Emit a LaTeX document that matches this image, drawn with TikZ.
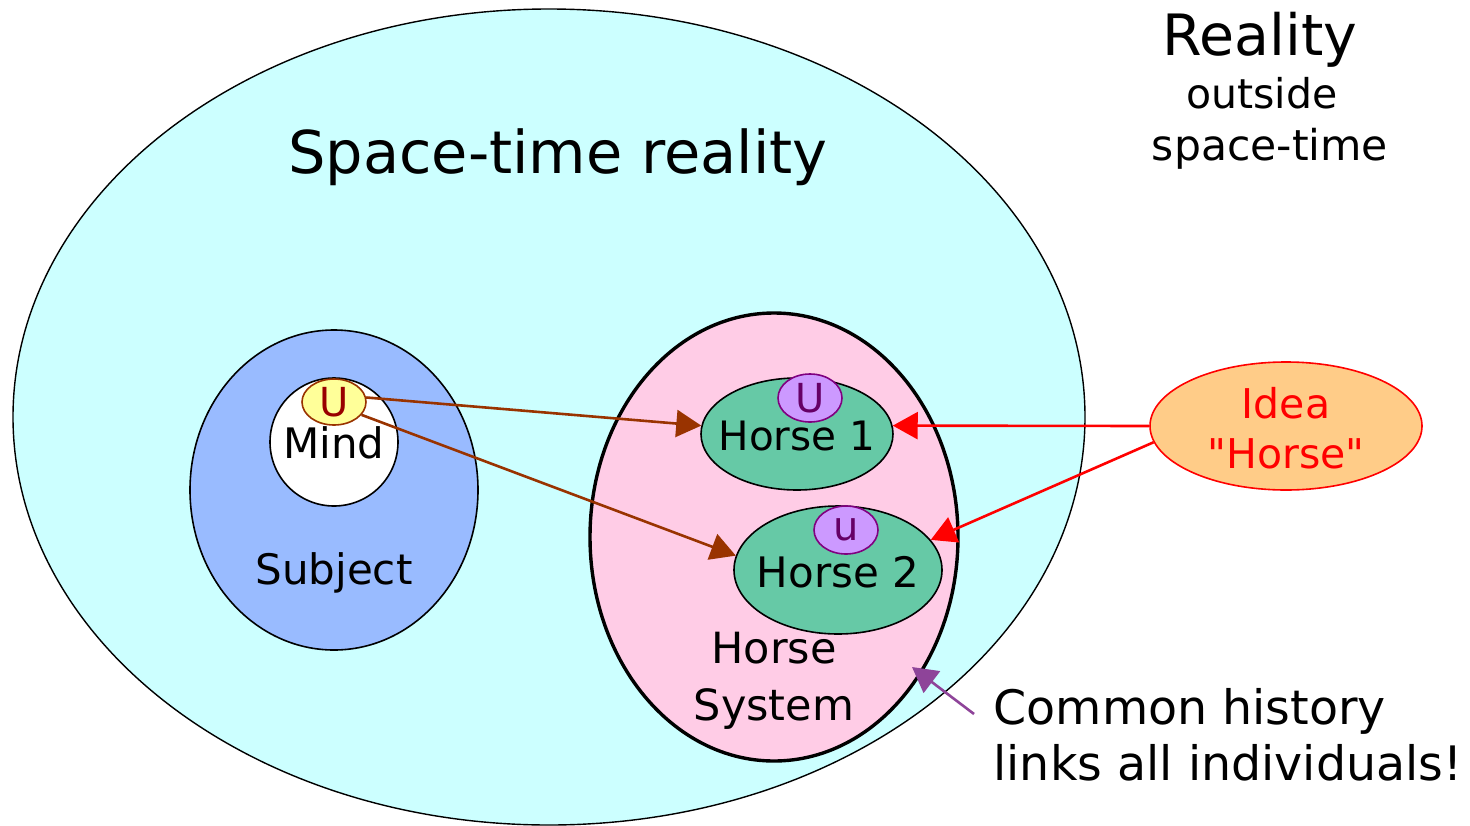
\documentclass[tikz,border=0pt]{standalone}
\usepackage{fontspec}
\setmainfont{DejaVu Sans}
\usetikzlibrary{shapes.geometric,arrows.meta}
\definecolor{cyanbg}{HTML}{CCFFFF}
\definecolor{subj}{HTML}{99BBFF}
\definecolor{pinkbg}{HTML}{FFCCE6}
\definecolor{horsegreen}{HTML}{66C9A6}
\definecolor{ideafill}{HTML}{FFCC88}
\definecolor{uyellow}{HTML}{FFFF99}
\definecolor{upurple}{HTML}{CC99FF}
\definecolor{brownline}{HTML}{993300}
\definecolor{darkred}{HTML}{990000}
\definecolor{purpleline}{HTML}{800080}
\definecolor{purpletext}{HTML}{660066}
\definecolor{arrowpurple}{HTML}{8E4499}
\tikzset{
  ell/.style={ellipse, inner sep=0pt, draw=black, line width=1.6pt},
  fs/.style={font=\fontsize{#1}{#1}\selectfont},
  brownarrow/.style={draw=brownline, line width=2.6pt, -{Triangle[length=25pt,width=27pt]}},
  redarrow/.style={draw=red, line width=2.6pt, -{Triangle[length=25pt,width=27pt]}},
  purplearrow/.style={draw=arrowpurple, line width=2.6pt, -{Triangle[length=25pt,width=27pt]}},
}
\begin{document}
\begin{tikzpicture}[x=1pt,y=-1pt]
\useasboundingbox (0,0) rectangle (1470,825);
% big space-time ellipse
\node[ell, fill=cyanbg, line width=1.4pt, minimum width=1072pt, minimum height=816pt] (st) at (549,417) {};
\node[fs=59] (sttext) at (558,157) {Space-time reality};
% reality outside
\node[fs=57, anchor=base] (reality) at (1260,55) {Reality};
\node[fs=41, anchor=base] (outside) at (1262,108) {outside};
\node[fs=42.5, anchor=base] (spacetime) at (1270,160) {space-time};
% subject
\node[ell, fill=subj, minimum width=288pt, minimum height=320pt] (subject) at (334,490) {};
\node[fs=42, anchor=base] (subjtext) at (334,584) {Subject};
\node[ell, fill=white, minimum width=128pt, minimum height=128pt] (mind) at (334,442) {};
\node[fs=42, anchor=base] (mindtext) at (334,458) {Mind};
\node[ell, fill=uyellow, draw=brownline, line width=1.6pt, minimum width=64pt, minimum height=46pt, text=darkred, fs=40] (uy) at (334,402) {U};
% horse system
\node[ell, fill=pinkbg, line width=3.4pt, minimum width=368pt, minimum height=448pt] (hs) at (774,537) {};
\node[align=center, anchor=base, font=\fontsize{43}{57}\selectfont] (hstext) at (774,720) {Horse\\System};
% horse 1
\node[ell, fill=horsegreen, minimum width=192pt, minimum height=112pt] (h1) at (797,434) {};
\node[fs=40.5, anchor=base] (h1text) at (797,450) {Horse 1};
\node[ell, fill=upurple, draw=purpleline, minimum width=64pt, minimum height=48pt, text=purpletext, fs=40] (u1) at (810,398) {U};
% horse 2
\node[ell, fill=horsegreen, minimum width=208pt, minimum height=128pt] (h2) at (838,570) {};
\node[fs=42, anchor=base] (h2text) at (838,587) {Horse 2};
\node[ell, fill=upurple, draw=purpleline, minimum width=64pt, minimum height=48pt, text=purpletext, fs=40] (u2) at (846,530) {u};
% idea
\node[ell, fill=ideafill, draw=red, minimum width=272pt, minimum height=128pt] (idea) at (1286,426) {};
\node[text=red, align=center, anchor=base, font=\fontsize{41}{50}\selectfont] (ideatext) at (1286,468) {Idea\\\textquotedbl Horse\textquotedbl};
% common history
\node[align=left, anchor=base west, font=\fontsize{47.5}{56}\selectfont] (common) at (990,780) {Common history\\links all individuals!};
% arrows
\draw[brownarrow] (uy.8) -- (h1.175);
\draw[brownarrow] (uy.-25) -- (h2.172);
\draw[redarrow] (idea.180) -- (h1.5);
\draw[redarrow] (idea.187) -- (h2.18);
\coordinate (pstart) at (974,714);
\coordinate (ptip) at (912,667);
\draw[purplearrow] (pstart) -- (ptip);
\end{tikzpicture}
\end{document}
